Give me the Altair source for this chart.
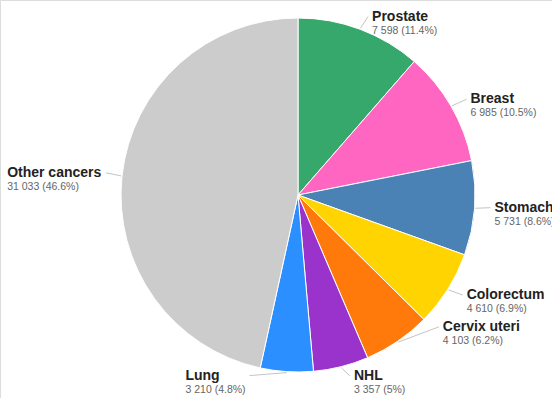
import altair as alt
import pandas as pd

categories = ["Prostate", "Breast", "Stomach", "Colorectum", "Cervix uteri", "NHL", "Lung", "Other cancers"]
values = [7598, 6985, 5731, 4610, 4103, 3357, 3210, 31033]
value_labels = ["7 598 (11.4%)", "6 985 (10.5%)", "5 731 (8.6%)", "4 610 (6.9%)",
                "4 103 (6.2%)", "3 357 (5%)", "3 210 (4.8%)", "31 033 (46.6%)"]
colors = ["#36a86b", "#ff66c2", "#4a82b6", "#ffd400", "#ff7a0a", "#9933cc", "#2b8fff", "#cccccc"]

# label layout nudges (collision avoidance), pixels relative to radial anchor
label_dx = [5, 2, 0, 2, 34, 8, -100, -95]
label_dy = [6, 3, -2, -5, -31, -10, -16, -1]

df = pd.DataFrame({
    "idx": list(range(len(categories))),
    "category": categories,
    "value": values,
    "vlabel": value_labels,
    "ndx": label_dx,
    "ndy": label_dy,
})

CX, CY, R = 298, 195, 177
W, H = 552, 398

base = alt.Chart(df)

pie = base.mark_arc(outerRadius=R, stroke="white", strokeWidth=1).encode(
    theta=alt.Theta("value:Q", stack=True),
    color=alt.Color("category:N", scale=alt.Scale(domain=categories, range=colors), legend=None),
    order=alt.Order("idx:Q"),
    x=alt.value(CX),
    y=alt.value(CY),
)

geo = base.transform_joinaggregate(total="sum(value)").transform_window(
    cum="sum(value)", sort=[alt.SortField("idx")], frame=[None, 0]
).transform_calculate(
    mid="(datum.cum - datum.value/2)/datum.total*2*PI",
).transform_calculate(
    ex=f"{CX} + {R+1}*sin(datum.mid)",
    ey=f"{CY} - {R+1}*cos(datum.mid)",
    ax=f"{CX} + {R+20}*sin(datum.mid)",
    ay=f"{CY} - {R+20}*cos(datum.mid)",
).transform_calculate(
    tx="datum.ax + datum.ndx",
    ty="datum.ay + datum.ndy",
).transform_calculate(
    lx="datum.tx < datum.ex ? (datum.idx == 7 ? datum.tx + 99 : datum.tx + 64) : datum.tx - 4",
)

xs = alt.Scale(domain=[0, W], range=[0, W])
ys = alt.Scale(domain=[0, H], range=[0, H])

leader = geo.mark_rule(color="#c4c4c4", strokeWidth=1).encode(
    x=alt.X("ex:Q", scale=xs, axis=None),
    y=alt.Y("ey:Q", scale=ys, axis=None),
    x2="lx:Q",
    y2="ty:Q",
)

name_text = geo.mark_text(align="left", baseline="middle", font="Liberation Sans",
                          fontWeight="bold", fontSize=14, color="#222222").encode(
    x=alt.X("tx:Q", scale=xs, axis=None),
    y=alt.Y("ty:Q", scale=ys, axis=None),
    text="category:N",
)

val_text = geo.mark_text(align="left", baseline="middle", font="Liberation Sans",
                         fontSize=10.5, color="#666666", dy=14).encode(
    x=alt.X("tx:Q", scale=xs, axis=None),
    y=alt.Y("ty:Q", scale=ys, axis=None),
    text="vlabel:N",
)

chart = alt.layer(pie, leader, name_text, val_text).properties(
    width=W, height=H, padding=0, autosize=alt.AutoSizeParams(type="none")
).configure_view(stroke=None).configure(background="white")

chart.save("out.html", embed_options={"renderer": "svg", "actions": False})
